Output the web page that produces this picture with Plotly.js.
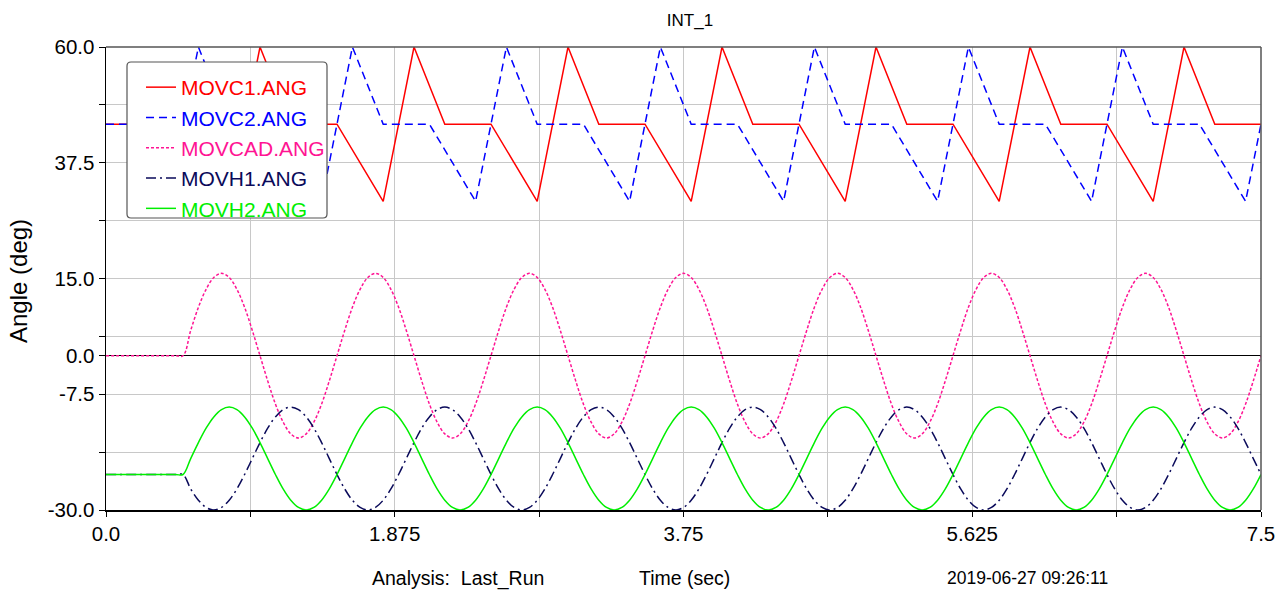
<!DOCTYPE html>
<html>
<head>
<meta charset="utf-8">
<script src="https://cdn.plot.ly/plotly-3.0.1.min.js"></script>
<style>
html, body { margin: 0; padding: 0; background: #ffffff; }
#chart { width: 1287px; height: 592px; }
</style>
</head>
<body>
<div id="chart"></div>
<script>
// ---- data ----
var seriesNames = ['MOVC1.ANG', 'MOVC2.ANG', 'MOVCAD.ANG', 'MOVH1.ANG', 'MOVH2.ANG'];

// MOVC1.ANG (piecewise linear)
var tMOVC1 = [0, 0.5, 0.8, 1.0, 1.2, 1.5, 1.8, 2.0, 2.2, 2.5, 2.8, 3.0, 3.2, 3.5, 3.8, 4.0, 4.2, 4.5, 4.8, 5.0, 5.2, 5.5, 5.8, 6.0, 6.2, 6.5, 6.8, 7.0, 7.2, 7.5];
var vMOVC1 = [45, 45, 30, 60, 45, 45, 30, 60, 45, 45, 30, 60, 45, 45, 30, 60, 45, 45, 30, 60, 45, 45, 30, 60, 45, 45, 30, 60, 45, 45];

// MOVC2.ANG (piecewise linear)
var tMOVC2 = [0, 0.5, 0.6, 0.8, 1.1, 1.4, 1.6, 1.8, 2.1, 2.4, 2.6, 2.8, 3.1, 3.4, 3.6, 3.8, 4.1, 4.4, 4.6, 4.8, 5.1, 5.4, 5.6, 5.8, 6.1, 6.4, 6.6, 6.8, 7.1, 7.4, 7.5];
var vMOVC2 = [45, 45, 60, 45, 45, 30, 60, 45, 45, 30, 60, 45, 45, 30, 60, 45, 45, 30, 60, 45, 45, 30, 60, 45, 45, 30, 60, 45, 45, 30, 45];

// shared time samples for the smooth curves
var tWave = [0, 0.45,
  0.5, 0.55, 0.6, 0.65, 0.7, 0.75, 0.8, 0.85, 0.9, 0.95, 1.0, 1.05, 1.1, 1.15, 1.2, 1.25, 1.3, 1.35, 1.4, 1.45,
  1.5, 1.55, 1.6, 1.65, 1.7, 1.75, 1.8, 1.85, 1.9, 1.95, 2.0, 2.05, 2.1, 2.15, 2.2, 2.25, 2.3, 2.35, 2.4, 2.45,
  2.5, 2.55, 2.6, 2.65, 2.7, 2.75, 2.8, 2.85, 2.9, 2.95, 3.0, 3.05, 3.1, 3.15, 3.2, 3.25, 3.3, 3.35, 3.4, 3.45,
  3.5, 3.55, 3.6, 3.65, 3.7, 3.75, 3.8, 3.85, 3.9, 3.95, 4.0, 4.05, 4.1, 4.15, 4.2, 4.25, 4.3, 4.35, 4.4, 4.45,
  4.5, 4.55, 4.6, 4.65, 4.7, 4.75, 4.8, 4.85, 4.9, 4.95, 5.0, 5.05, 5.1, 5.15, 5.2, 5.25, 5.3, 5.35, 5.4, 5.45,
  5.5, 5.55, 5.6, 5.65, 5.7, 5.75, 5.8, 5.85, 5.9, 5.95, 6.0, 6.05, 6.1, 6.15, 6.2, 6.25, 6.3, 6.35, 6.4, 6.45,
  6.5, 6.55, 6.6, 6.65, 6.7, 6.75, 6.8, 6.85, 6.9, 6.95, 7.0, 7.05, 7.1, 7.15, 7.2, 7.25, 7.3, 7.35, 7.4, 7.45,
  7.5];

// MOVCAD.ANG
var vMOVCAD = [0, 0,
  0, 4.9, 9.4, 12.9, 15.2, 16, 15.2, 12.9, 9.4, 4.9, 0, -4.9, -9.4, -12.9, -15.2, -16, -15.2, -12.9, -9.4, -4.9,
  0, 4.9, 9.4, 12.9, 15.2, 16, 15.2, 12.9, 9.4, 4.9, 0, -4.9, -9.4, -12.9, -15.2, -16, -15.2, -12.9, -9.4, -4.9,
  0, 4.9, 9.4, 12.9, 15.2, 16, 15.2, 12.9, 9.4, 4.9, 0, -4.9, -9.4, -12.9, -15.2, -16, -15.2, -12.9, -9.4, -4.9,
  0, 4.9, 9.4, 12.9, 15.2, 16, 15.2, 12.9, 9.4, 4.9, 0, -4.9, -9.4, -12.9, -15.2, -16, -15.2, -12.9, -9.4, -4.9,
  0, 4.9, 9.4, 12.9, 15.2, 16, 15.2, 12.9, 9.4, 4.9, 0, -4.9, -9.4, -12.9, -15.2, -16, -15.2, -12.9, -9.4, -4.9,
  0, 4.9, 9.4, 12.9, 15.2, 16, 15.2, 12.9, 9.4, 4.9, 0, -4.9, -9.4, -12.9, -15.2, -16, -15.2, -12.9, -9.4, -4.9,
  0, 4.9, 9.4, 12.9, 15.2, 16, 15.2, 12.9, 9.4, 4.9, 0, -4.9, -9.4, -12.9, -15.2, -16, -15.2, -12.9, -9.4, -4.9,
  0];

// MOVH1.ANG
var vMOVH1 = [-23.1, -23.1,
  -23.1, -25.9, -28.1, -29.5, -30, -29.5, -28.1, -25.9, -23.1, -20, -16.9, -14.1, -11.9, -10.5, -10, -10.5, -11.9, -14.1, -16.9, -20,
  -23.1, -25.9, -28.1, -29.5, -30, -29.5, -28.1, -25.9, -23.1, -20, -16.9, -14.1, -11.9, -10.5, -10, -10.5, -11.9, -14.1, -16.9, -20,
  -23.1, -25.9, -28.1, -29.5, -30, -29.5, -28.1, -25.9, -23.1, -20, -16.9, -14.1, -11.9, -10.5, -10, -10.5, -11.9, -14.1, -16.9, -20,
  -23.1, -25.9, -28.1, -29.5, -30, -29.5, -28.1, -25.9, -23.1, -20, -16.9, -14.1, -11.9, -10.5, -10, -10.5, -11.9, -14.1, -16.9, -20,
  -23.1, -25.9, -28.1, -29.5, -30, -29.5, -28.1, -25.9, -23.1, -20, -16.9, -14.1, -11.9, -10.5, -10, -10.5, -11.9, -14.1, -16.9, -20,
  -23.1, -25.9, -28.1, -29.5, -30, -29.5, -28.1, -25.9, -23.1, -20, -16.9, -14.1, -11.9, -10.5, -10, -10.5, -11.9, -14.1, -16.9, -20,
  -23.1, -25.9, -28.1, -29.5, -30, -29.5, -28.1, -25.9, -23.1, -20, -16.9, -14.1, -11.9, -10.5, -10, -10.5, -11.9, -14.1, -16.9, -20,
  -23.1];

// MOVH2.ANG
var vMOVH2 = [-23.1, -23.1,
  -23.1, -20, -16.9, -14.1, -11.9, -10.5, -10, -10.5, -11.9, -14.1, -16.9, -20, -23.1, -25.9, -28.1, -29.5, -30, -29.5, -28.1, -25.9,
  -23.1, -20, -16.9, -14.1, -11.9, -10.5, -10, -10.5, -11.9, -14.1, -16.9, -20, -23.1, -25.9, -28.1, -29.5, -30, -29.5, -28.1, -25.9,
  -23.1, -20, -16.9, -14.1, -11.9, -10.5, -10, -10.5, -11.9, -14.1, -16.9, -20, -23.1, -25.9, -28.1, -29.5, -30, -29.5, -28.1, -25.9,
  -23.1, -20, -16.9, -14.1, -11.9, -10.5, -10, -10.5, -11.9, -14.1, -16.9, -20, -23.1, -25.9, -28.1, -29.5, -30, -29.5, -28.1, -25.9,
  -23.1, -20, -16.9, -14.1, -11.9, -10.5, -10, -10.5, -11.9, -14.1, -16.9, -20, -23.1, -25.9, -28.1, -29.5, -30, -29.5, -28.1, -25.9,
  -23.1, -20, -16.9, -14.1, -11.9, -10.5, -10, -10.5, -11.9, -14.1, -16.9, -20, -23.1, -25.9, -28.1, -29.5, -30, -29.5, -28.1, -25.9,
  -23.1, -20, -16.9, -14.1, -11.9, -10.5, -10, -10.5, -11.9, -14.1, -16.9, -20, -23.1, -25.9, -28.1, -29.5, -30, -29.5, -28.1, -25.9,
  -23.1];

// axis ticks
var xTickVals = [0, 0.9375, 1.875, 2.8125, 3.75, 4.6875, 5.625, 6.5625, 7.5];
var xTickText = ['0.0', '', '1.875', '', '3.75', '', '5.625', '', '7.5'];
var yTickVals = [-30, -18.75, -7.5, 0, 3.75, 15, 26.25, 37.5, 48.75, 60];
var yTickText = ['-30.0', '', '-7.5', '0.0', '', '15.0', '', '37.5', '', '60.0'];

// ---- styling ----
var colors = ['#ff0000', '#0000ff', '#ff1493', '#0a0a5a', '#00ee00'];
var dashes = ['solid', '8px,5px', '3px,2px', '10px,4px,2px,4px', 'solid'];
var FONT = 'Liberation Sans, Arial, sans-serif';

function lbl(i) {
  return '<span style="color:' + colors[i] + '">' + seriesNames[i] + '</span>';
}

var xs = [tMOVC1, tMOVC2, tWave, tWave, tWave];
var ys = [vMOVC1, vMOVC2, vMOVCAD, vMOVH1, vMOVH2];
var traces = [];
for (var i = 0; i < 5; i++) {
  traces.push({
    type: 'scatter',
    mode: 'lines',
    x: xs[i],
    y: ys[i],
    name: lbl(i),
    line: { color: colors[i], width: 1.5, dash: dashes[i], shape: i >= 2 ? 'spline' : 'linear', smoothing: 1 },
    hoverinfo: 'skip'
  });
}

// pixel helpers for the plot area (l=106, t=47, w=1155, h=463)
function px(x) { return (x - 106) / 1155; }
function py(y) { return (510 - y) / 463; }

// legend frame with rounded corners
var bx0 = px(127), bx1 = px(327), by0 = py(218), by1 = py(62);
var rx = 4 / 1155, ry = 4 / 463;
var framePath = 'M' + (bx0 + rx) + ',' + by1 +
  ' L' + (bx1 - rx) + ',' + by1 + ' Q' + bx1 + ',' + by1 + ' ' + bx1 + ',' + (by1 - ry) +
  ' L' + bx1 + ',' + (by0 + ry) + ' Q' + bx1 + ',' + by0 + ' ' + (bx1 - rx) + ',' + by0 +
  ' L' + (bx0 + rx) + ',' + by0 + ' Q' + bx0 + ',' + by0 + ' ' + bx0 + ',' + (by0 + ry) +
  ' L' + bx0 + ',' + (by1 - ry) + ' Q' + bx0 + ',' + by1 + ' ' + (bx0 + rx) + ',' + by1 + ' Z';

var layout = {
  width: 1287,
  height: 592,
  margin: { l: 106, r: 26, t: 47, b: 82 },
  paper_bgcolor: '#ffffff',
  plot_bgcolor: '#ffffff',
  font: { family: FONT, size: 19, color: '#000000' },
  title: { text: 'INT_1', x: px(690), xref: 'paper', xanchor: 'center', y: 1 - 20 / 592, yanchor: 'middle', font: { family: FONT, size: 17, color: '#000' } },
  showlegend: true,
  legend: {
    x: px(141), y: py(67), xanchor: 'left', yanchor: 'top',
    bgcolor: 'rgba(0,0,0,0)', borderwidth: 0,
    font: { family: FONT, size: 21 },
    traceorder: 'normal', tracegroupgap: 0,
    itemwidth: 30
  },
  xaxis: {
    range: [0, 7.5],
    tickmode: 'array', tickvals: xTickVals, ticktext: xTickText,
    showgrid: true, gridcolor: '#c8c8c8', gridwidth: 1,
    showline: true, linecolor: '#000000', linewidth: 1.5,
    ticks: 'outside', ticklen: 5, tickcolor: '#000000',
    zeroline: false,
    tickfont: { family: FONT, size: 20.5 }
  },
  yaxis: {
    range: [-30, 60],
    tickmode: 'array', tickvals: yTickVals, ticktext: yTickText,
    showgrid: true, gridcolor: '#c8c8c8', gridwidth: 1,
    showline: true, linecolor: '#000000', linewidth: 1.5,
    ticks: 'outside', ticklen: 6, tickcolor: '#000000',
    zeroline: true, zerolinecolor: '#000000', zerolinewidth: 1,
    tickfont: { family: FONT, size: 20.5 }
  },
  shapes: [
    { type: 'line', xref: 'paper', yref: 'paper', x0: 0, x1: 1, y0: 1, y1: 1, line: { color: '#555555', width: 1.5 } },
    { type: 'line', xref: 'paper', yref: 'paper', x0: 1, x1: 1, y0: 0, y1: 1, line: { color: '#555555', width: 1.5 } },
    { type: 'path', xref: 'paper', yref: 'paper', path: framePath, layer: 'above', fillcolor: '#ffffff', line: { color: '#555555', width: 1.2 } }
  ],
  annotations: [
    { text: 'Angle (deg)', xref: 'paper', yref: 'paper', x: px(18), y: py(281), xanchor: 'center', yanchor: 'middle', textangle: -90, showarrow: false, font: { family: FONT, size: 24, color: '#000' } },
    { text: 'Analysis:&nbsp;&nbsp;Last_Run', xref: 'paper', yref: 'paper', x: px(370), y: py(578), xanchor: 'left', yanchor: 'middle', showarrow: false, font: { family: FONT, size: 19.5, color: '#000' } },
    { text: 'Time (sec)', xref: 'paper', yref: 'paper', x: px(684), y: py(578), xanchor: 'center', yanchor: 'middle', showarrow: false, font: { family: FONT, size: 19.5, color: '#000' } },
    { text: '2019-06-27 09:26:11', xref: 'paper', yref: 'paper', x: px(945), y: py(578), xanchor: 'left', yanchor: 'middle', showarrow: false, font: { family: FONT, size: 17.5, color: '#000' } }
  ]
};

Plotly.newPlot('chart', traces, layout, { staticPlot: true, displayModeBar: false });
</script>
</body>
</html>
